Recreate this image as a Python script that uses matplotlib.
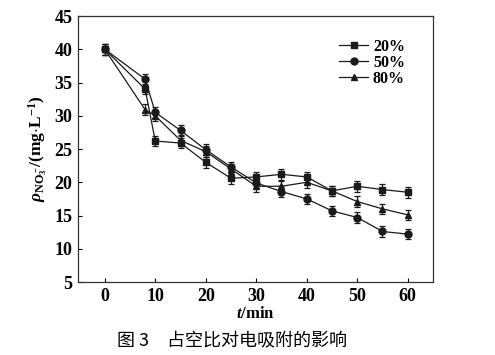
import numpy as np
import matplotlib
matplotlib.use("Agg")
import matplotlib.pyplot as plt

plt.rcParams["font.family"] = ["Liberation Serif", "DejaVu Serif"]
plt.rcParams["font.weight"] = "bold"
plt.rcParams["mathtext.fontset"] = "custom"
plt.rcParams["mathtext.rm"] = "Liberation Serif:bold"
plt.rcParams["mathtext.it"] = "Liberation Serif:italic:bold"
plt.rcParams["mathtext.bf"] = "Liberation Serif:bold"

# time (min)
t = [0, 8, 10, 15, 20, 25, 30, 35, 40, 45, 50, 55, 60]
# NO3- concentration (mg/L) for each duty ratio
duty20 = [40.0, 34.0, 26.2, 25.9, 23.0, 20.6, 20.8, 21.2, 20.8, 18.7, 19.4, 18.9, 18.5]
duty50 = [40.0, 35.5, 30.5, 27.8, 24.9, 22.3, 19.9, 18.6, 17.5, 15.7, 14.7, 12.6, 12.2]
duty80 = [40.0, 30.9, 30.0, 26.3, 24.6, 22.0, 19.4, 19.4, 20.0, 18.7, 17.1, 16.0, 15.1]
err = 0.8

series = [("20%", duty20, "s"), ("50%", duty50, "o"), ("80%", duty80, "^")]

fig = plt.figure(figsize=(4.95, 3.55), dpi=100)
ax = fig.add_axes([0.1576, 0.2056, 0.7171, 0.7493])

for label, vals, mk in series:
    ax.errorbar(t, vals, yerr=err, color="#1a1a1a", marker=mk, markersize=5,
                linewidth=0.9, elinewidth=0.9, capsize=2.5, capthick=0.9,
                label=label)

ax.set_xlim(-5.3, 65)
ax.set_ylim(5, 45)
ax.set_xticks(np.arange(0, 61, 10))
ax.set_yticks(np.arange(5, 46, 5))
ax.tick_params(direction="in", length=3, labelsize=13, width=0.8, pad=4)
for s in ax.spines.values():
    s.set_linewidth(0.9)
    s.set_color("#333333")

ax.set_xlabel(r"$t$/min", fontsize=12, fontweight="bold", labelpad=1)
ax.set_ylabel(r"$\rho_{\mathrm{NO_3^-}}$/(mg$\cdot$L$^{-1}$)", fontsize=12.5,
              fontweight="bold", labelpad=3)

handles, labels = ax.get_legend_handles_labels()
handles = [h[0] for h in handles]
ax.legend(handles, labels, loc="upper right", bbox_to_anchor=(0.948, 0.95),
          frameon=False, fontsize=11.5, handlelength=1.8, handletextpad=0.3,
          labelspacing=0.0, borderaxespad=0.2)

fig.text(0.468, 0.039, "图 3　占空比对电吸附的影响", ha="center", va="center",
         fontsize=13, family=["Noto Sans CJK SC", "DejaVu Sans"], fontweight="normal")

fig.savefig("out.png", dpi=100)
